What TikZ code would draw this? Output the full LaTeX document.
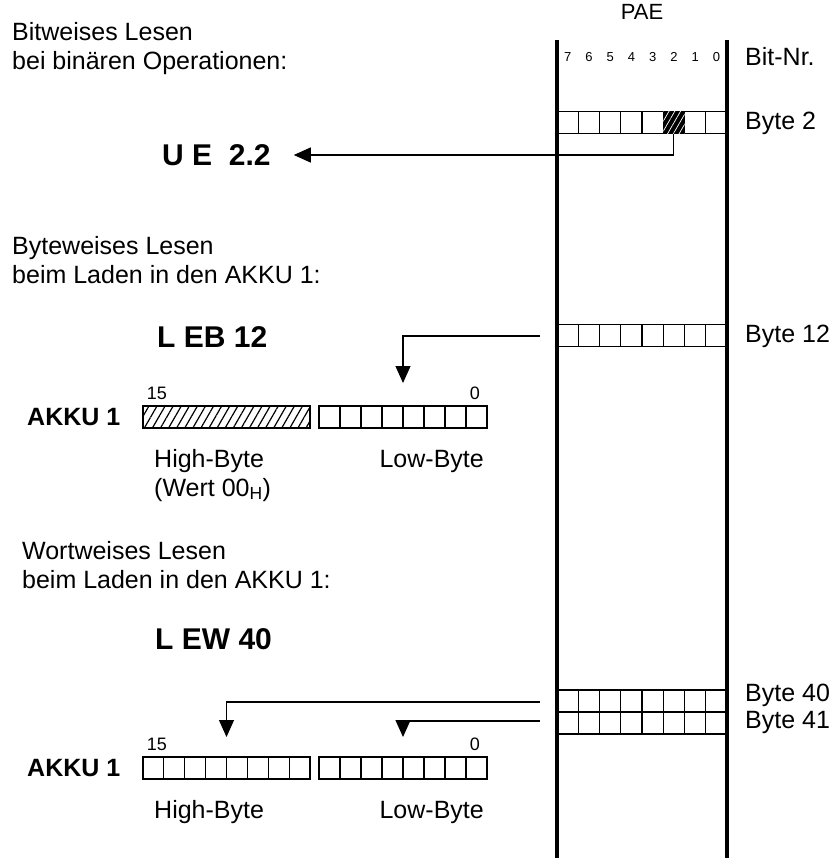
\documentclass[tikz,border=0pt]{standalone}
\usepackage{fontspec}
\setmainfont{Liberation Sans}
\usetikzlibrary{arrows.meta, positioning, patterns.meta}

\begin{document}
\begin{tikzpicture}[x=1pt, y=-1pt,
    txt/.style={inner sep=0pt, font=\fontsize{25}{29}\selectfont, align=left},
    cmd/.style={anchor=west, inner sep=0pt, font=\fontsize{30}{34}\selectfont\bfseries},
    akku/.style={anchor=west, inner sep=0pt, font=\fontsize{25}{29}\selectfont\bfseries},
    bitno/.style={inner sep=0pt, font=\fontsize{13}{13}\selectfont},
    regno/.style={inner sep=0pt, font=\fontsize{18}{18}\selectfont},
    cell/.style={draw, line width=1.2pt, minimum width=21.25pt, minimum height=22pt, inner sep=0pt, outer sep=0pt},
    hatch/.style={pattern={Lines[angle=60, distance=7pt, line width=1.2pt]}},
    bus/.style={line width=4.5pt},
    feed/.style={line width=1.2pt, -{Triangle[length=17pt, width=15pt]}}]
  \useasboundingbox (0,0) rectangle (833,860);

  % PAE
  \draw[bus] (557,40) -- (557,858);
  \draw[bus] (727,40) -- (727,858);
  \node[txt, font=\fontsize{22}{22}\selectfont] (pae) at (642,12) {PAE};
  \foreach \b in {0,...,7}
    \node[bitno] (bn\b) at ({716.375-21.25*\b}, 57) {\b};
  \node[txt, anchor=west] (bitnr) at (745,57) {Bit-Nr.};

  % byte rows in the PAE
  \foreach \b in {0,...,7} {
    \node[cell] (b2-\b) at ({716.375-21.25*\b}, 122.5) {};
    \node[cell] (b12-\b) at ({716.375-21.25*\b}, 335.5) {};
    \node[cell] (b40-\b) at ({716.375-21.25*\b}, 701) {};
    \node[cell] (b41-\b) at ({716.375-21.25*\b}, 723) {};
  }
  \node[cell, fill=black, postaction={pattern={Lines[angle=60, distance=5pt, line width=0.7pt]}, pattern color=white}] at (b2-2) {};
  \node[txt, anchor=west] (lb2) at (745,123) {Byte 2};
  \node[txt, anchor=west] (lb12) at (745,336) {Byte 12};
  \node[txt, anchor=west] (lb40) at (745,695) {Byte 40};
  \node[txt, anchor=west] (lb41) at (745,722) {Byte 41};

  % bitweise
  \node[txt, anchor=north west] (bitintro) at (12,22) {Bitweises Lesen\\bei binären Operationen:};
  \node[cmd] (ue) at (162,155) {U E\ \ 2.2};
  \coordinate (uetip) at ([xshift=23pt]ue.east);
  \draw[feed] (b2-2.south) |- (uetip);

  % byteweise
  \node[txt, anchor=north west] (byteintro) at (12,236) {Byteweises Lesen\\beim Laden in den AKKU 1:};
  \node[cmd] (leb) at (157,337) {L EB 12};
  \node[akku] (akku1) at (27,417) {AKKU 1};
  \node[draw, line width=1.2pt, hatch, minimum width=167pt, minimum height=22pt, inner sep=0pt] (hb1) at (226.5,417) {};
  \foreach \i in {0,...,7}
    \node[cell, minimum width=21pt] (lo1-\i) at ({329.5+21*\i}, 417) {};
  \node[regno] (hi15a) at (157,393) {15};
  \node[regno] (lo0a) at (475,393) {0};
  \node[txt, anchor=base west] (hbtxt1) at (154,467) {High-Byte};
  \node[txt, anchor=base west] (wert) at (154,496) {(Wert 00\textsubscript{H})};
  \node[txt, anchor=base east] (lbtxt1) at (484,467) {Low-Byte};
  \coordinate (in12) at (540,336);
  \draw[feed] (in12) -| ([yshift=23pt]lo1-3.north east);

  % wortweise
  \node[txt, anchor=north west] (wordintro) at (22,541) {Wortweises Lesen\\beim Laden in den AKKU 1:};
  \node[cmd] (lew) at (155,639) {L EW 40};
  \node[akku] (akku2) at (27,768) {AKKU 1};
  \foreach \i in {0,...,7} {
    \node[cell, minimum width=20.875pt] (hi2-\i) at ({153.4375+20.875*\i}, 768) {};
    \node[cell, minimum width=21pt] (lo2-\i) at ({329.5+21*\i}, 768) {};
  }
  \node[regno] (hi15b) at (157,744) {15};
  \node[regno] (lo0b) at (475,744) {0};
  \node[txt, anchor=base west] (hbtxt2) at (154,818) {High-Byte};
  \node[txt, anchor=base east] (lbtxt2) at (484,818) {Low-Byte};
  \coordinate (in40) at (540,702);
  \coordinate (in41) at (540,721);
  \draw[feed] (in40) -| ([yshift=20pt]hi2-3.north east);
  \draw[feed] (in41) -| ([yshift=20pt]lo2-3.north east);
\end{tikzpicture}
\end{document}
